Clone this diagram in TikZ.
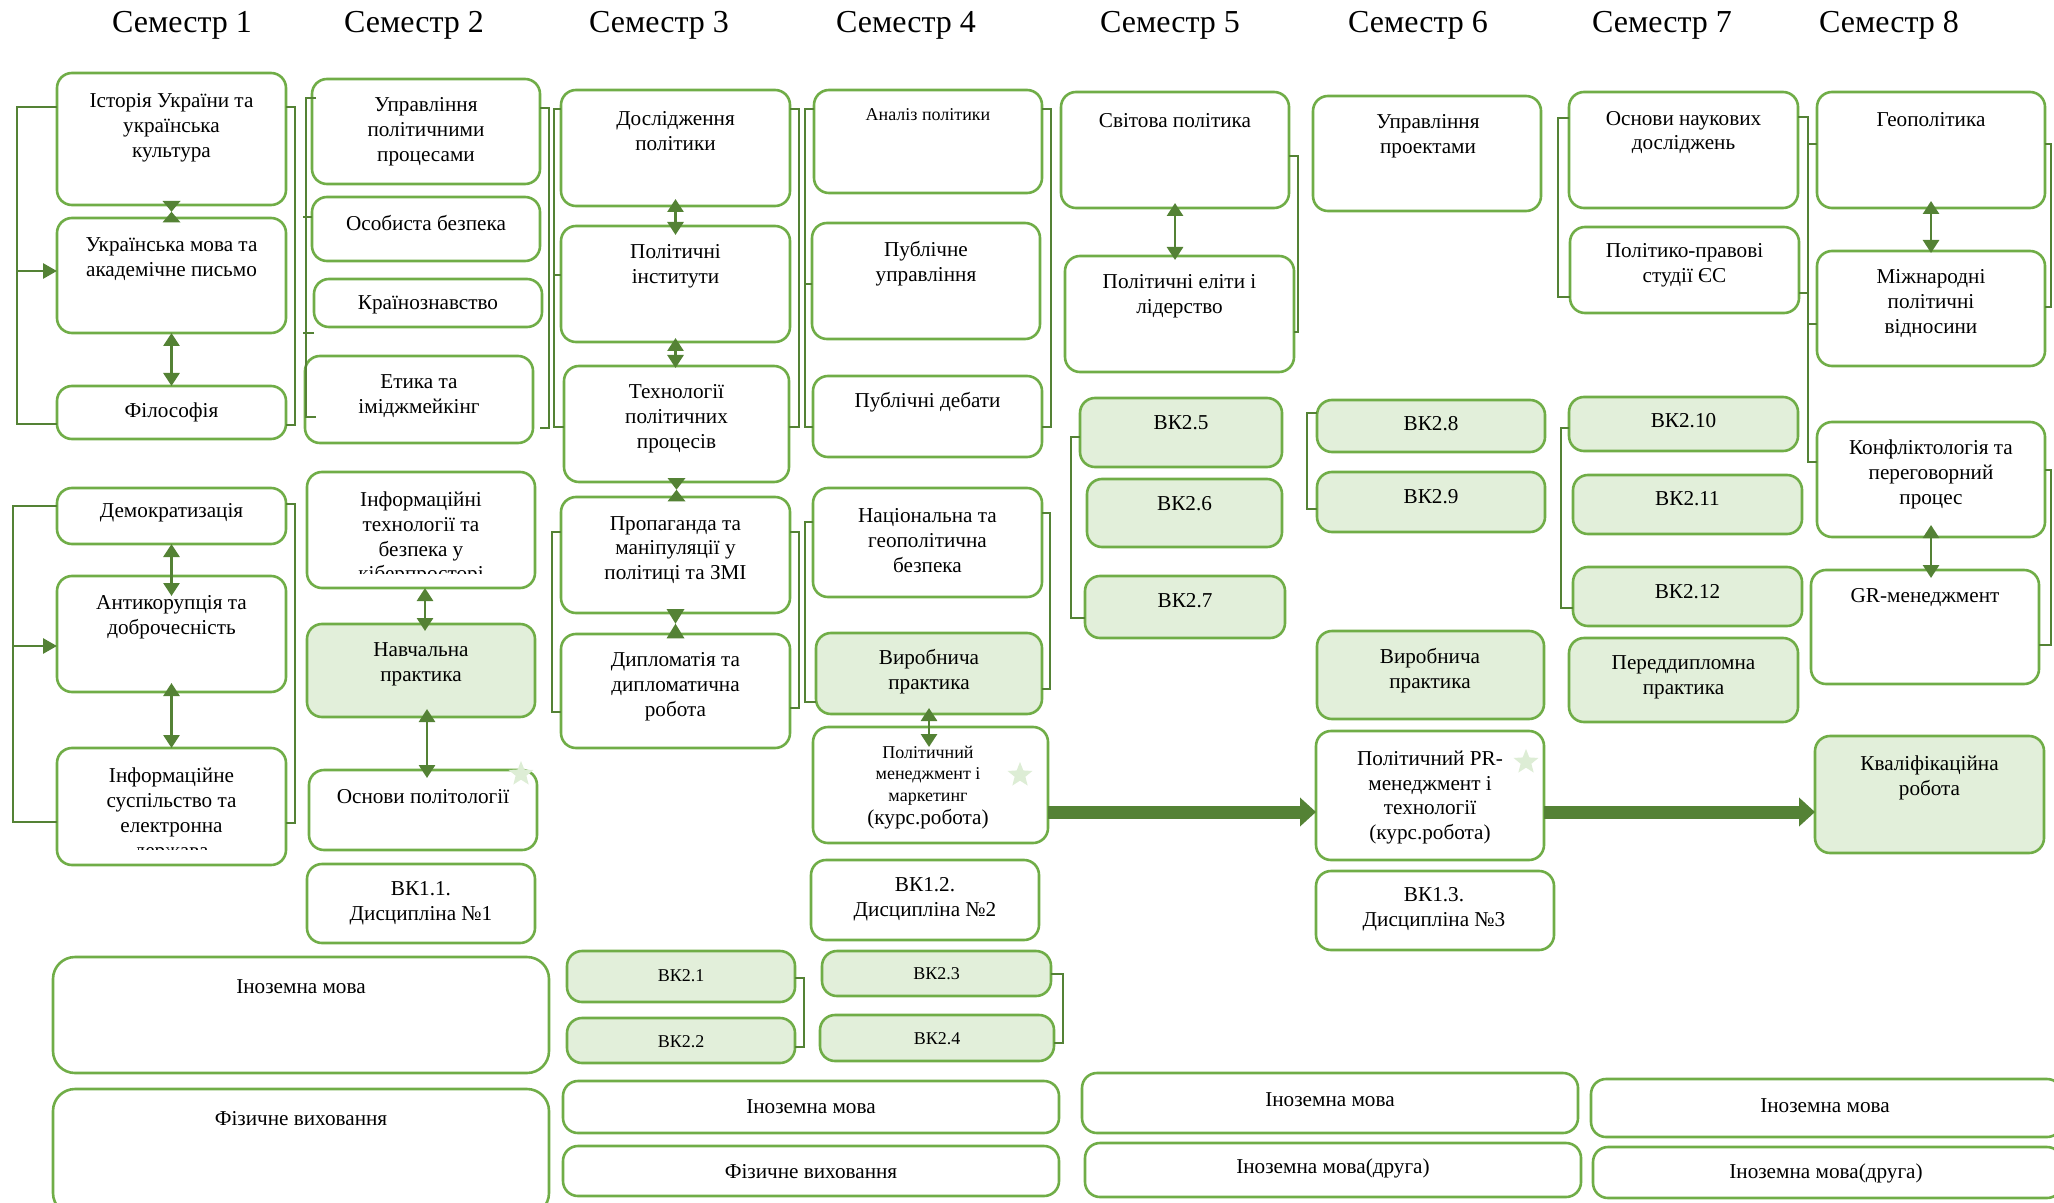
\documentclass[tikz,border=0pt]{standalone}
\usepackage{fontspec}
\setmainfont{Liberation Serif}
\usetikzlibrary{arrows.meta,shapes.geometric}
\definecolor{bord}{HTML}{70AD47}
\definecolor{lfill}{HTML}{E2EFDA}
\definecolor{dgreen}{HTML}{548235}
\definecolor{starc}{HTML}{DDEDD5}
\tikzset{
 cbox/.style={draw=bord, line width=1.3pt, rounded corners=7.5pt, fill=white, inner sep=0pt, outer sep=0pt},
 gbox/.style={cbox, fill=lfill},
 txt/.style={align=center, font=\fontsize{10.6}{12.4}\selectfont, inner sep=0pt},
 stxt/.style={txt, font=\fontsize{9}{10.75}\selectfont},
 dbl/.style={draw=dgreen, line width=1.4pt, arrows={Triangle[width=8pt,length=6.5pt]-Triangle[width=8pt,length=6.5pt]}},
 brk/.style={draw=dgreen, line width=1.2pt},
 sarr/.style={draw=dgreen, line width=1.4pt, arrows={-Triangle[width=7.5pt,length=7pt]}},
 big/.style={draw=dgreen, line width=6.5pt, arrows={-Triangle[width=14pt,length=8pt]}},
 sem/.style={font=\fontsize{16}{18}\selectfont, anchor=base, inner sep=0pt},
 starn/.style={star, star points=5, star point ratio=2.3, fill=starc, draw=none, minimum size=13pt, inner sep=0pt},
}
\newcommand\MkBox[6][]{\node[cbox,#1,minimum width={(#5-#3)*0.5pt},minimum height={(#6-#4)*0.5pt}] (#2) at ({(#3+#5)/2},{(#4+#6)/2}) {};}
\newcommand\MkHg[2]{\fill[dgreen] ([xshift=-4.5pt,yshift=2pt]#1.south) -- ([xshift=4.5pt,yshift=2pt]#1.south) -- ([xshift=-4.5pt,yshift=-2.2pt]#1.south |- #2.north) -- ([xshift=4.5pt,yshift=-2.2pt]#1.south |- #2.north) -- cycle;}
\begin{document}
\begin{tikzpicture}[x=0.5pt,y=-0.5pt]
\useasboundingbox (0,0) rectangle (2054,1203);
\clip (0,0) rectangle (2054,1203);
% semester titles
\node[sem] (s1) at (182,33) {Семестр 1};
\node[sem] (s2) at (414,33) {Семестр 2};
\node[sem] (s3) at (659,33) {Семестр 3};
\node[sem] (s4) at (906,33) {Семестр 4};
\node[sem] (s5) at (1170,33) {Семестр 5};
\node[sem] (s6) at (1418,33) {Семестр 6};
\node[sem] (s7) at (1662,33) {Семестр 7};
\node[sem] (s8) at (1889,33) {Семестр 8};
% column 1
\MkBox{ist}{57}{73}{286}{205}
\node[txt] (istt) at (171.5,128) {Історія України та\\українська\\культура};
\MkBox{ukr}{57}{218}{286}{333}
\node[txt] (ukrt) at (171.5,259) {Українська мова та\\академічне письмо};
\MkBox{fil}{57}{386}{286}{439}
\node[txt] (filt) at (171.5,412) {Філософія};
\MkBox{dem}{57}{488}{286}{544}
\node[txt] (demt) at (171.5,513) {Демократизація};
\MkBox{anti}{57}{576}{286}{692}
\node[txt] (antit) at (171.5,617) {Антикорупція та\\доброчесність};
\MkBox{infs}{57}{748}{286}{865}
\begin{scope}
\clip (57,740) rectangle (286,849);
\node[txt] (infst) at (171.5,814.8) {Інформаційне\\суспільство та\\електронна\\держава};
\end{scope}
% column 2
\MkBox{upr}{312}{79}{540}{184}
\node[txt] (uprt) at (426,132) {Управління\\політичними\\процесами};
\MkBox{oso}{312}{197}{540}{261}
\node[txt] (osot) at (426,223) {Особиста безпека};
\MkBox{kra}{314}{279}{542}{327}
\node[txt] (krat) at (428,305) {Країнознавство};
\MkBox{eti}{305}{356}{533}{443}
\node[txt] (etit) at (419,396) {Етика та\\іміджмейкінг};
\MkBox{it}{307}{472}{535}{588}
\begin{scope}
\clip (307,465) rectangle (535,573);
\node[txt] (itt) at (421,538.5) {Інформаційні\\технології та\\безпека у\\кіберпросторі};
\end{scope}
\MkBox[gbox]{nav}{307}{624}{535}{717}
\node[txt] (navt) at (421,664.5) {Навчальна\\практика};
\MkBox{osn}{309}{770}{537}{850}
\node[txt] (osnt) at (423,797) {Основи політології};
\MkBox{vk11}{307}{864}{535}{943}
\node[txt] (vk11t) at (421,903.5) {ВК1.1.\\Дисципліна №1};
% column 3
\MkBox{dos}{561}{90}{790}{206}
\node[txt] (dost) at (675.5,131) {Дослідження\\політики};
\MkBox{ins}{561}{226}{790}{342}
\node[txt] (inst) at (675.5,266.5) {Політичні\\інститути};
\MkBox{tex}{564}{366}{789}{482}
\node[txt] (text) at (676.5,419) {Технології\\політичних\\процесів};
\MkBox{pro}{561}{497}{790}{613}
\node[txt] (prot) at (675.5,550) {Пропаганда та\\маніпуляції у\\політиці та ЗМІ};
\MkBox{dip}{561}{634}{790}{748}
\node[txt] (dipt) at (675.5,686.5) {Дипломатія та\\дипломатична\\робота};
% column 4
\MkBox{ana}{814}{90}{1042}{193}
\node[stxt] (anat) at (928,115) {Аналіз політики};
\MkBox{pub}{812}{223}{1040}{339}
\node[txt] (pubt) at (926,263.5) {Публічне\\управління};
\MkBox{deb}{813}{376}{1042}{457}
\node[txt] (debt) at (927.5,402) {Публічні дебати};
\MkBox{nat}{813}{488}{1042}{597}
\node[txt] (natt) at (927.5,540.5) {Національна та\\геополітична\\безпека};
\MkBox[gbox]{vyra}{816}{633}{1042}{714}
\node[txt] (vyrat) at (929,672) {Виробнича\\практика};
\MkBox{pm}{813}{727}{1048}{843}
\node[stxt] (pmt) at (928,775.5) {Політичний\\менеджмент і\\маркетинг};
\node[txt] (pmt2) at (928,819) {(курс.робота)};
\MkBox{vk12}{811}{860}{1039}{940}
\node[txt] (vk12t) at (925,899) {ВК1.2.\\Дисципліна №2};
% column 5
\MkBox{svi}{1061}{92}{1289}{208}
\node[txt] (svit) at (1175,121) {Світова політика};
\MkBox{eli}{1065}{256}{1294}{372}
\node[txt] (elit) at (1179.5,296) {Політичні еліти і\\лідерство};
\MkBox[gbox]{vfive}{1080}{398}{1282}{467}
\node[txt] (vfivet) at (1181,423) {ВК2.5};
\MkBox[gbox]{vsix}{1087}{479}{1282}{547}
\node[txt] (vsixt) at (1184.5,504) {ВК2.6};
\MkBox[gbox]{vseven}{1085}{576}{1285}{638}
\node[txt] (vsevent) at (1185,601) {ВК2.7};
% column 6
\MkBox{upp}{1313}{96}{1541}{211}
\node[txt] (uppt) at (1428,136) {Управління\\проектами};
\MkBox[gbox]{veight}{1317}{400}{1545}{452}
\node[txt] (veightt) at (1431,424) {ВК2.8};
\MkBox[gbox]{vnine}{1317}{472}{1545}{532}
\node[txt] (vninet) at (1431,497) {ВК2.9};
\MkBox[gbox]{vyrb}{1317}{631}{1544}{719}
\node[txt] (vyrbt) at (1430,671) {Виробнича\\практика};
\MkBox{pr}{1316}{731}{1544}{860}
\node[txt] (prt) at (1430,797.5) {Політичний PR-\\менеджмент і\\технології\\(курс.робота)};
\MkBox{vk13}{1316}{871}{1554}{950}
\node[txt] (vk13t) at (1434,909) {ВК1.3.\\Дисципліна №3};
% column 7
\MkBox{osnd}{1569}{92}{1798}{208}
\node[txt] (osndt) at (1683.5,132.5) {Основи наукових\\досліджень};
\MkBox{ppr}{1570}{227}{1799}{313}
\node[txt] (pprt) at (1684.5,265.5) {Політико-правові\\студії ЄС};
\MkBox[gbox]{vten}{1569}{397}{1798}{451}
\node[txt] (vtent) at (1683.5,421) {ВК2.10};
\MkBox[gbox]{veleven}{1573}{475}{1802}{534}
\node[txt] (velevent) at (1687.5,499) {ВК2.11};
\MkBox[gbox]{vtwelve}{1573}{567}{1802}{626}
\node[txt] (vtwelvet) at (1687.5,592) {ВК2.12};
\MkBox[gbox]{pdp}{1569}{638}{1798}{722}
\node[txt] (pdpt) at (1683.5,677.5) {Переддипломна\\практика};
% column 8
\MkBox{geo}{1817}{92}{2045}{208}
\node[txt] (geot) at (1931,120) {Геополітика};
\MkBox{mizh}{1817}{251}{2045}{366}
\node[txt] (mizht) at (1931,303.5) {Міжнародні\\політичні\\відносини};
\MkBox{konf}{1817}{422}{2045}{537}
\node[txt] (konft) at (1931,474.5) {Конфліктологія та\\переговорний\\процес};
\MkBox{gr}{1811}{570}{2039}{684}
\node[txt] (grt) at (1925,598) {GR-менеджмент};
\MkBox[gbox]{kval}{1815}{736}{2044}{853}
\node[txt] (kvalt) at (1929.5,778) {Кваліфікаційна\\робота};
% bottom
\MkBox[rounded corners=11pt]{ina}{53}{957}{549}{1073}
\node[txt] (inat) at (301,987) {Іноземна мова};
\MkBox[rounded corners=11pt]{fva}{53}{1089}{549}{1215}
\node[txt] (fvat) at (301,1119) {Фізичне виховання};
\MkBox[gbox]{vone}{567}{951}{795}{1002}
\node[stxt] (vonet) at (681,976) {ВК2.1};
\MkBox[gbox]{vtwo}{567}{1018}{795}{1063}
\node[stxt] (vtwot) at (681,1042) {ВК2.2};
\MkBox[gbox]{vthree}{822}{951}{1051}{996}
\node[stxt] (vthreet) at (936.5,974) {ВК2.3};
\MkBox[gbox]{vfour}{820}{1015}{1054}{1061}
\node[stxt] (vfourt) at (937,1039) {ВК2.4};
\MkBox{inb}{563}{1081}{1059}{1133}
\node[txt] (inbt) at (811,1107) {Іноземна мова};
\MkBox{fvb}{563}{1146}{1059}{1196}
\node[txt] (fvbt) at (811,1172) {Фізичне виховання};
\MkBox{inc}{1082}{1073}{1578}{1133}
\node[txt] (inct) at (1330,1100) {Іноземна мова};
\MkBox{ind}{1085}{1143}{1581}{1197}
\node[txt] (indt) at (1333,1168) {Іноземна мова(друга)};
\MkBox{ine}{1591}{1079}{2062}{1137}
\node[txt] (inet) at (1825,1106) {Іноземна мова};
\MkBox{inf}{1593}{1147}{2062}{1198}
\node[txt] (inft) at (1826,1173) {Іноземна мова(друга)};
% stars
\node[starn] (sta) at (521,774) {};
\node[starn] (stb) at (1020,775) {};
\node[starn] (stc) at (1526,762) {};
% double arrows
\draw[dbl] (ukr.south) -- (fil.north);
\draw[dbl, shorten >=-10pt] (dem.south) -- (anti.north);
\draw[dbl, shorten <=-4.5pt] (anti.south) -- (anti.south |- infs.north);
\draw[dbl, shorten >=-3.5pt] ([xshift=2pt]it.south) -- ([xshift=2pt]nav.north);
\draw[dbl, shorten <=-4pt, shorten >=-4pt] ([xshift=3pt]nav.south) -- ([xshift=3pt]nav.south |- osn.north);
\draw[dbl, shorten <=-3.5pt, shorten >=-4.5pt] (dos.south) -- (ins.north);
\draw[dbl, shorten <=-2pt, shorten >=-1pt] (ins.south) -- (ins.south |- tex.north);
\draw[dbl, shorten <=-3pt, shorten >=-10pt] (vyra.south) -- (vyra.south |- pm.north);
\draw[dbl, shorten <=-2.5pt, shorten >=-2pt] (svi.south) -- (svi.south |- eli.north);
\draw[dbl, shorten <=-3.5pt, shorten >=-1pt] (geo.south) -- (mizh.north);
\draw[dbl, shorten <=-6pt, shorten >=-4pt] (konf.south) -- (konf.south |- gr.north);
\MkHg{ist}{ukr}
\MkHg{tex}{pro}
\MkHg{pro}{dip}
% thick arrows
\coordinate (ay) at (0,812);
\draw[big] (pm.east |- ay) -- (pr.west |- ay);
\draw[big] (pr.east |- ay) -- (kval.west |- ay);
% brackets
\draw[brk] (ist.west |- 0,107) -- ++(-40,0) |- (fil.west |- 0,424);
\draw[sarr] (ukr.west |- 0,271) ++(-40,0) -- (ukr.west |- 0,271);
\draw[brk] (ist.east |- 0,107) -- ++(9,0) |- (fil.east |- 0,425);
\draw[brk] (dem.west |- 0,506) -- ++(-44,0) |- (infs.west |- 0,822);
\draw[sarr] (anti.west |- 0,646) ++(-44,0) -- (anti.west |- 0,646);
\draw[brk] (dem.east |- 0,504) -- ++(9,0) |- (infs.east |- 0,823);
\draw[brk] ([xshift=2pt]upr.west |- 0,98) -- ++(-10,0) |- ([xshift=5.5pt]eti.west |- 0,417);
\draw[brk] (oso.west |- 0,217) -- ++(-9,0);
\draw[brk] (kra.west |- 0,333) -- ++(-11,0);
\draw[brk] (upr.east |- 0,108) -- ++(9,0) |- ([xshift=3.5pt]eti.east |- 0,428);
\draw[brk] (dos.west |- 0,109) -- ++(-7,0) |- (tex.west |- 0,427);
\draw[brk] (ins.west |- 0,275) -- ++(-7,0);
\draw[brk] (dos.east |- 0,109) -- ++(9,0) |- (tex.east |- 0,427);
\draw[brk] (pro.west |- 0,532) -- ++(-9,0) |- (dip.west |- 0,712);
\draw[brk] (pro.east |- 0,532) -- ++(9,0) |- (dip.east |- 0,708);
\draw[brk] (ana.west |- 0,109) -- ++(-9,0) |- (deb.west |- 0,427);
\draw[brk] (pub.west |- 0,284) -- ++(-7,0);
\draw[brk] (ana.east |- 0,109) -- ++(9,0) |- (deb.east |- 0,427);
\draw[brk] (nat.west |- 0,522) -- ++(-8,0) |- (vyra.west |- 0,702);
\draw[brk] (nat.east |- 0,513) -- ++(8,0) |- (vyra.east |- 0,689);
\draw[brk] (svi.east |- 0,156) -- ++(9,0) |- (eli.east |- 0,332);
\draw[brk] (vfive.west |- 0,437) -- ++(-9,0) |- (vseven.west |- 0,618);
\draw[brk] (veight.west |- 0,413) -- ++(-10,0) |- (vnine.west |- 0,509);
\draw[brk] (osnd.west |- 0,118) -- ++(-11,0) |- (ppr.west |- 0,297);
\draw[brk] (vten.west |- 0,428) -- ++(-8,0) |- (vtwelve.west |- 0,608);
\draw[brk] (osnd.east |- 0,117) -- ++(10,0) |- (konf.west |- 0,462);
\draw[brk] (ppr.east |- 0,293) -- ++(9,0);
\draw[brk] (geo.west |- 0,144) -- ++(-9,0);
\draw[brk] (mizh.west |- 0,324) -- ++(-9,0);
\draw[brk] (geo.east |- 0,144) -- ++(6,0) |- (mizh.east |- 0,307);
\draw[brk] (konf.east |- 0,470) -- ++(6,0) |- (gr.east |- 0,645);
\draw[brk] (vone.east |- 0,978) -- ++(9,0) |- (vtwo.east |- 0,1047);
\draw[brk] (vthree.east |- 0,974) -- ++(12,0) |- (vfour.east |- 0,1043);
\end{tikzpicture}
\end{document}
